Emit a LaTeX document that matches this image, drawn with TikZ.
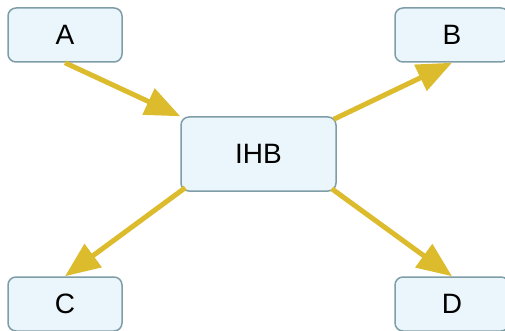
\documentclass[tikz,border=0pt]{standalone}
\usepackage{fontspec}
\setmainfont{Liberation Sans}
\usetikzlibrary{arrows.meta,calc}
\definecolor{boxfill}{HTML}{EAF6FB}
\definecolor{boxline}{HTML}{7F9DA6}
\definecolor{flow}{HTML}{DCBB2C}
\tikzset{
  box/.style={draw=boxline, fill=boxfill, line width=1.5pt, rounded corners=8pt,
    inner sep=0pt, font=\fontsize{28}{28}\selectfont},
  flowarrow/.style={draw=flow, line width=5pt,
    -{Triangle[length=35pt,width=28pt]}},
}
\begin{document}
\begin{tikzpicture}[x=1pt,y=-1pt]
\useasboundingbox (0,0) rectangle (505,331);
\node[box, minimum width=114pt, minimum height=54pt] (A) at (65,35) {A};
\node[box, minimum width=114pt, minimum height=54pt] (B) at (452,35) {B};
\node[box, minimum width=155pt, minimum height=74pt] (IHB) at (258.5,154) {IHB};
\node[box, minimum width=114pt, minimum height=54pt] (C) at (65,304) {C};
\node[box, minimum width=114pt, minimum height=54pt] (D) at (452,304) {D};
\draw[flowarrow] (A.south) -- (IHB.north west);
\draw[flowarrow] ($(IHB.north east)+(-3,3)$) -- (B.south);
\draw[flowarrow] ($(IHB.south west)+(5,-4)$) -- (C.north);
\draw[flowarrow] ($(IHB.south east)+(-5,-3)$) -- (D.north);
\end{tikzpicture}
\end{document}
